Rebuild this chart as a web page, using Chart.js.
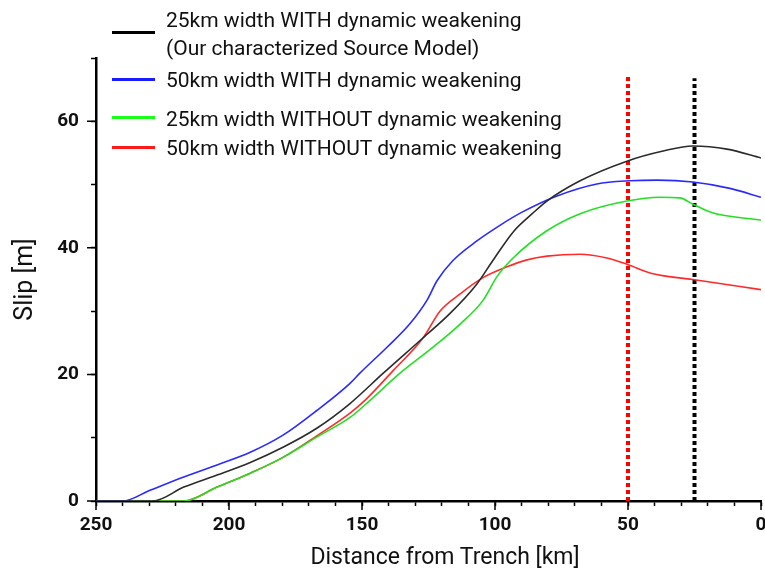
<!DOCTYPE html>
<html lang="en">
<head>
    <meta charset="UTF-8">
    <title>Slip vs Distance from Trench</title>
    <script src="https://cdn.jsdelivr.net/npm/chart.js"></script>
    <style>
        body {
            margin: 0;
            background: #fff;
            font-family: Roboto, sans-serif;
        }

        #wrap {
            position: relative;
            width: 765px;
            height: 575px;
        }

        .leg-line {
            position: absolute;
            left: 112px;
            width: 43px;
            height: 3px;
        }

        .leg-text {
            position: absolute;
            left: 166px;
            font-size: 21px;
            line-height: 28px;
            color: #111;
            white-space: nowrap;
        }

        #x-title {
            position: absolute;
            left: 445px;
            top: 556px;
            transform: translate(-50%, -50%);
            font-size: 23px;
            color: #111;
            white-space: nowrap;
        }
    </style>
</head>
<body>
    <div id="wrap">
        <canvas id="slip-chart" width="765" height="575"></canvas>
        <div id="legend"></div>
        <div id="x-title">Distance from Trench [km]</div>
    </div>

    <script>
        // series (distance from trench in km, slip in m)
        const blackX = [250, 228.6, 217, 204.5, 192, 179.7, 167, 154.5, 142, 127, 117, 106.8, 100.8, 93, 86, 80.5, 68, 50.4, 36.8, 25.6, 12.8, 0];
        const blackY = [0, 0, 2.2, 4.1, 6.1, 8.5, 11.5, 15.4, 20.2, 25.8, 29.6, 34.3, 38.0, 42.6, 45.4, 47.4, 50.6, 53.7, 55.3, 56.1, 55.6, 54.2];

        const blueX = [250, 240, 229.7, 217, 204.5, 192, 179.7, 167, 154.5, 150.8, 140.6, 132, 125.6, 121.8, 115.8, 106.8, 98, 90, 76.7, 61.7, 49.2, 39, 25.6, 11.7, 0];
        const blueY = [0, 0, 1.7, 3.8, 5.7, 7.7, 10.4, 14.3, 18.6, 20.2, 24.3, 28, 31.7, 34.8, 38, 41.1, 43.6, 45.6, 48.2, 50.1, 50.6, 50.7, 50.4, 49.4, 48];

        const greenX = [250, 217, 204.5, 192, 179.7, 167, 154.5, 147, 135.7, 123.3, 113, 104.5, 99.2, 93.2, 80.5, 68, 50.4, 38, 30.5, 25.6, 18, 0];
        const greenY = [0, 0, 2.2, 4.4, 6.9, 10.1, 13.2, 15.9, 20.2, 24.3, 28, 31.7, 35.5, 38.4, 42.7, 45.4, 47.4, 48.0, 47.9, 46.9, 45.5, 44.4];

        const redX = [250, 217, 204.5, 192, 179.7, 167, 154.5, 148.9, 138.3, 127, 120.7, 113.2, 104.5, 95.5, 88, 80.5, 68, 57.9, 50.4, 40.6, 25.6, 0];
        const redY = [0, 0, 2.2, 4.4, 6.9, 10.3, 13.9, 15.9, 20.6, 25.8, 30, 32.7, 35.3, 37.0, 38.1, 38.7, 39.0, 38.4, 37.4, 35.9, 35.0, 33.4];

        // dotted vertical markers (red at 50 km, black at 25 km)
        const markerX = [50, 25];
        const markerTop = [67.3, 66.8];

        const seriesLabels = [
            ['25km width WITH dynamic weakening', '(Our characterized Source Model)'],
            ['50km width WITH dynamic weakening'],
            ['25km width WITHOUT dynamic weakening'],
            ['50km width WITHOUT dynamic weakening']
        ];
        const seriesColors = ['#2b2b2b', '#2a2aff', '#22e022', '#ff2a2a'];
        const legendColors = ['#000000', '#1a1aff', '#1aff1a', '#ff1a1a'];

        const xMajor = [250, 200, 150, 100, 50, 0];
        const yMajor = [0, 20, 40, 60];

        function toPoints(xs, ys) {
            return xs.map((x, i) => ({ x: x, y: ys[i] }));
        }

        // legend laid over the canvas, the way the figure has it
        const legendRows = [
            { line: 32, text: 6 },
            { line: 79, text: 66 },
            { line: 117, text: 105 },
            { line: 147, text: 134 }
        ];
        const legend = document.getElementById('legend');
        seriesLabels.forEach((lines, i) => {
            const l = document.createElement('div');
            l.className = 'leg-line';
            l.style.top = (legendRows[i].line - 1.5) + 'px';
            l.style.background = legendColors[i];
            legend.appendChild(l);
            const t = document.createElement('div');
            t.className = 'leg-text';
            t.style.top = legendRows[i].text + 'px';
            t.innerHTML = lines.join('<br>');
            legend.appendChild(t);
        });

        // longer tick marks at the labelled values
        const majorTicks = {
            id: 'majorTicks',
            afterDraw(chart) {
                const ctx = chart.ctx;
                const xs = chart.scales.x;
                const ys = chart.scales.y;
                const area = chart.chartArea;
                ctx.save();
                ctx.strokeStyle = '#000';
                ctx.lineWidth = 1.5;
                ctx.beginPath();
                yMajor.forEach(v => {
                    const py = ys.getPixelForValue(v);
                    ctx.moveTo(area.left - 9, py);
                    ctx.lineTo(area.left, py);
                });
                xMajor.forEach(v => {
                    const px = xs.getPixelForValue(v);
                    ctx.moveTo(px, area.bottom);
                    ctx.lineTo(px, area.bottom + 9);
                });
                ctx.stroke();
                ctx.restore();
            }
        };

        const curveStyle = {
            borderWidth: 1.6,
            pointRadius: 0,
            fill: false,
            cubicInterpolationMode: 'monotone'
        };

        const datasets = [
            Object.assign({ data: toPoints(blackX, blackY), borderColor: seriesColors[0] }, curveStyle),
            Object.assign({ data: toPoints(blueX, blueY), borderColor: seriesColors[1] }, curveStyle),
            Object.assign({ data: toPoints(greenX, greenY), borderColor: seriesColors[2] }, curveStyle),
            Object.assign({ data: toPoints(redX, redY), borderColor: seriesColors[3] }, curveStyle)
        ];
        markerX.forEach((x, i) => {
            datasets.push({
                data: [{ x: x, y: 0 }, { x: x, y: markerTop[i] }],
                borderColor: i === 0 ? '#ff0000' : '#000000',
                borderWidth: 4,
                borderDash: [4, 3],
                pointRadius: 0,
                fill: false
            });
        });

        const tickFont = { family: 'Roboto', size: 19, weight: 'bold' };

        new Chart(document.getElementById('slip-chart'), {
            type: 'line',
            data: { datasets: datasets },
            options: {
                responsive: false,
                animation: false,
                layout: { padding: { top: 58, right: 4, left: 0, bottom: 0 } },
                plugins: {
                    legend: { display: false },
                    tooltip: { enabled: false }
                },
                scales: {
                    x: {
                        type: 'linear',
                        reverse: true,
                        min: 0,
                        max: 250,
                        afterFit: scale => {
                            scale.height = 74;
                            scale.paddingLeft = 0;
                            scale.paddingRight = 0;
                        },
                        border: { display: true, color: '#000', width: 2.5 },
                        grid: { drawOnChartArea: false, tickLength: 5, tickColor: '#000', tickWidth: 1.5 },
                        ticks: {
                            stepSize: 10,
                            autoSkip: false,
                            maxRotation: 0,
                            padding: 8,
                            color: '#111',
                            font: tickFont,
                            callback: v => (v % 50 === 0 ? v : '')
                        }
                    },
                    y: {
                        min: 0,
                        max: 70,
                        afterFit: scale => { scale.width = 96; },
                        border: { display: true, color: '#000', width: 2.5 },
                        grid: { drawOnChartArea: false, tickLength: 5, tickColor: '#000', tickWidth: 1.5 },
                        ticks: {
                            stepSize: 10,
                            autoSkip: false,
                            padding: 12,
                            color: '#111',
                            font: tickFont,
                            callback: v => (v % 20 === 0 ? v : '')
                        },
                        title: {
                            display: true,
                            text: 'Slip [m]',
                            color: '#111',
                            font: { family: 'Roboto', size: 25 },
                            padding: { top: 11, bottom: 0 }
                        }
                    }
                }
            },
            plugins: [majorTicks]
        });
    </script>
</body>
</html>
